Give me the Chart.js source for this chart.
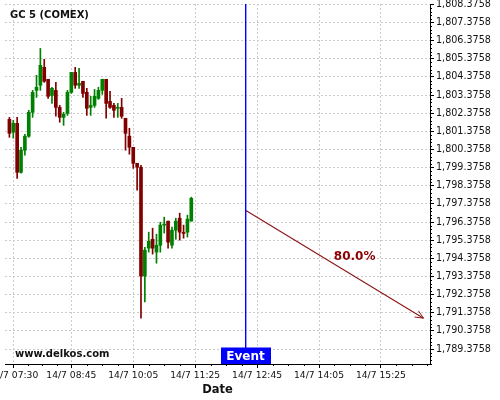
<!DOCTYPE html>
<html>
<head>
<meta charset="utf-8">
<script src="https://cdn.jsdelivr.net/npm/chart.js@4.4.1/dist/chart.umd.min.js"></script>
<style>
html,body{margin:0;padding:0;background:#fff;}
canvas{display:block;}
</style>
</head>
<body>
<canvas id="c" width="500" height="400"></canvas>
<script>
const FONT = 'DejaVu Sans';
const TITLE = 'GC 5 (COMEX)';
const WATERMARK = 'www.delkos.com';
const X_TITLE = 'Date';

// candle times, minutes since midnight (14/7)
const TIMES = [445,450,455,460,465,470,475,480,485,490,495,500,505,510,515,520,525,530,535,540,545,550,555,560,
               565,570,575,580,585,590,595,600,605,610,615,620,625,630,635,640,645,650,655,660,665,670,675,680];
const OPEN  = [1802.04,1801.33,1801.82,1799.12,1800.34,1801.11,1802.43,1803.64,1803.92,1804.91,1804.25,1803.36,
               1803.64,1802.70,1802.15,1802.37,1803.53,1804.63,1803.92,1804.14,1803.53,1802.70,1802.81,1803.20,
               1803.64,1804.25,1803.03,1802.81,1802.65,1802.70,1802.10,1801.11,1800.50,1799.62,1799.40,1793.40,
               1794.94,1795.43,1794.72,1795.10,1796.21,1796.43,1795.10,1795.93,1796.59,1795.80,1795.82,1796.43];
const HIGH  = [1802.15,1801.99,1802.15,1800.50,1801.22,1802.54,1803.64,1804.47,1805.95,1805.35,1804.25,1803.81,
               1804.08,1802.81,1802.43,1803.64,1804.63,1804.91,1804.85,1804.14,1803.75,1803.31,1803.69,1803.81,
               1804.25,1804.25,1803.58,1802.92,1802.92,1803.20,1802.10,1801.55,1800.50,1799.62,1799.51,1794.99,
               1795.82,1796.04,1795.71,1796.37,1796.65,1796.43,1796.10,1796.59,1796.87,1796.21,1796.76,1797.75];
const LOW   = [1801.05,1801.00,1798.79,1799.07,1800.06,1801.05,1802.15,1803.25,1803.64,1804.08,1803.20,1802.92,
               1802.21,1801.88,1801.71,1802.26,1803.47,1803.75,1803.75,1803.25,1802.26,1802.26,1802.70,1803.14,
               1803.42,1802.10,1802.65,1802.15,1802.15,1802.10,1800.34,1800.12,1799.34,1798.13,1791.08,1791.97,
               1794.72,1794.61,1794.11,1794.72,1795.77,1794.94,1794.94,1795.43,1795.38,1795.49,1795.55,1796.43];
const CLOSE = [1801.27,1801.82,1799.12,1800.34,1801.11,1802.43,1803.53,1803.81,1805.02,1804.14,1803.31,1803.75,
               1802.70,1802.15,1802.32,1803.53,1804.63,1803.92,1804.03,1803.47,1802.65,1802.81,1803.31,1803.64,
               1804.25,1802.92,1802.70,1802.54,1802.70,1802.21,1801.27,1800.50,1799.62,1799.40,1793.40,1794.83,
               1795.32,1794.94,1795.10,1796.21,1796.26,1795.27,1795.93,1796.43,1795.82,1795.75,1796.54,1797.69];

const X_TICKS = [450, 525, 605, 685, 765, 845, 925];
const X_TICK_LABELS = ['14/7 07:30','14/7 08:45','14/7 10:05','14/7 11:25','14/7 12:45','14/7 14:05','14/7 15:25'];
const Y_TICKS = [1789.3758,1790.3758,1791.3758,1792.3758,1793.3758,1794.3758,1795.3758,1796.3758,1797.3758,1798.3758,
                 1799.3758,1800.3758,1801.3758,1802.3758,1803.3758,1804.3758,1805.3758,1806.3758,1807.3758,1808.3758];
const X_MIN = 439.3, X_MAX = 988.4;
const Y_MIN = 1788.553, Y_MAX = 1808.40;

const EVENT_TIME = 750;
const EVENT_LABEL = 'Event';
const ARROW_START = {x: 750, y: 1797.03};
const ARROW_END = {x: 980, y: 1791.08};
const ARROW_LABEL = '80.0%';
const ARROW_LABEL_POS = {x: 891, y: 1794.45};

const UP = '#008000', DOWN = '#800000';
const ARROW_COLOR = '#8b1515';
const EVENT_COLOR = '#0000ff';
const colors = TIMES.map((t, i) => CLOSE[i] >= OPEN[i] ? UP : DOWN);
const bodies = TIMES.map((t, i) => ({x: t, y: [OPEN[i], CLOSE[i]]}));
const wicks = TIMES.map((t, i) => ({x: t, y: [LOW[i], HIGH[i]]}));

const overlay = {
  id: 'overlay',
  afterDatasetsDraw(chart) {
    const {ctx, chartArea: a, scales: {x}} = chart;
    // event marker line
    const px = Math.round(x.getPixelForValue(EVENT_TIME));
    ctx.save();
    ctx.fillStyle = EVENT_COLOR;
    ctx.fillRect(px, a.top, 1.4, a.bottom - a.top);
    ctx.restore();
  },
  afterDraw(chart) {
    const {ctx, chartArea: a, scales: {x, y}} = chart;
    ctx.save();
    // minor ticks on y axis
    ctx.strokeStyle = '#000';
    ctx.lineWidth = 1;
    ctx.beginPath();
    for (let i = 0; i < Y_TICKS.length; i++) {
      for (let k = -4; k <= 4; k++) {
        if (k === 0) continue;
        const v = Y_TICKS[i] + k * 0.2;
        if (k < 0 && i > 0) continue;
        if (v < y.min || v > y.max) continue;
        const py = Math.round(y.getPixelForValue(v)) + 0.5;
        ctx.moveTo(a.right, py); ctx.lineTo(a.right + 2, py);
      }
    }
    // minor ticks on x axis
    for (let i = 0; i < X_TICKS.length; i++) {
      const step = i + 1 < X_TICKS.length ? (X_TICKS[i + 1] - X_TICKS[i]) / 4 : 20;
      for (let k = 1; k < 4; k++) {
        const v = X_TICKS[i] + k * step;
        if (v > x.max) continue;
        const px = Math.round(x.getPixelForValue(v)) + 0.5;
        ctx.moveTo(px, a.bottom); ctx.lineTo(px, a.bottom + 2);
      }
      if (i === 0) {
        for (let k = 1; k < 4; k++) {
          const v = X_TICKS[0] - k * 20;
          if (v < x.min) continue;
          const px = Math.round(x.getPixelForValue(v)) + 0.5;
          ctx.moveTo(px, a.bottom); ctx.lineTo(px, a.bottom + 2);
        }
      }
    }
    ctx.stroke();

    // arrow head
    const sx = x.getPixelForValue(ARROW_START.x), sy = y.getPixelForValue(ARROW_START.y);
    const ex = x.getPixelForValue(ARROW_END.x), ey = y.getPixelForValue(ARROW_END.y);
    const ang = Math.atan2(ey - sy, ex - sx);
    ctx.strokeStyle = ARROW_COLOR;
    ctx.beginPath();
    ctx.moveTo(ex - 9 * Math.cos(ang - 0.42), ey - 9 * Math.sin(ang - 0.42));
    ctx.lineTo(ex, ey);
    ctx.lineTo(ex - 9 * Math.cos(ang + 0.42), ey - 9 * Math.sin(ang + 0.42));
    ctx.stroke();

    // arrow label
    ctx.fillStyle = '#8b0000';
    ctx.font = 'bold 12px "' + FONT + '"';
    ctx.textAlign = 'center';
    ctx.textBaseline = 'middle';
    ctx.fillText(ARROW_LABEL, x.getPixelForValue(ARROW_LABEL_POS.x), y.getPixelForValue(ARROW_LABEL_POS.y));

    // event label box
    const evx = Math.round(x.getPixelForValue(EVENT_TIME)) + 0.5;
    ctx.fillStyle = EVENT_COLOR;
    ctx.fillRect(Math.round(evx - 25), a.bottom - 16.5, 50, 16.5);
    ctx.fillStyle = '#ffffff';
    ctx.font = 'bold 12px "' + FONT + '"';
    ctx.fillText(EVENT_LABEL, evx, a.bottom - 7.5);

    // title and watermark
    ctx.fillStyle = '#111';
    ctx.textAlign = 'left';
    ctx.font = 'bold 10px "' + FONT + '"';
    ctx.fillText(TITLE, 10, 15);
    ctx.fillText(WATERMARK, 15, 354);
    ctx.restore();
  }
};

new Chart(document.getElementById('c'), {
  type: 'bar',
  data: {
    datasets: [
      {label: 'wick', data: wicks, backgroundColor: colors, barThickness: 1, grouped: false, order: 3},
      {label: 'body', data: bodies, backgroundColor: colors, barThickness: 3, grouped: false, minBarLength: 1, order: 2},
      {type: 'line', label: 'arrow', data: [ARROW_START, ARROW_END],
       borderColor: ARROW_COLOR, borderWidth: 1.1, pointRadius: 0, order: 0}
    ]
  },
  options: {
    responsive: false,
    animation: false,
    events: [],
    layout: {padding: {left: 5, top: 4, right: 0, bottom: 0}},
    plugins: {legend: {display: false}, tooltip: {enabled: false}},
    scales: {
      x: {
        type: 'linear', min: X_MIN, max: X_MAX, offset: false,
        grid: {offset: false, color: '#cccccc', tickColor: '#000', tickLength: 4, tickBorderDash: []},
        border: {display: true, color: '#000', width: 1, dash: [2, 2]},
        ticks: {autoSkip: false, maxRotation: 0, minRotation: 0, padding: 2, color: '#111',
                font: {family: FONT, size: 9.2},
                callback: (v) => { const i = X_TICKS.indexOf(v); return i >= 0 ? X_TICK_LABELS[i] : ''; }},
        title: {display: true, text: X_TITLE, color: '#111', font: {family: FONT, size: 11.5, weight: 'bold'},
                padding: {top: 0, bottom: 3}},
        afterBuildTicks: (s) => { s.ticks = X_TICKS.map(v => ({value: v})); },
        afterFit: (s) => { s.height = 36; s.paddingLeft = 0; s.paddingRight = 0; }
      },
      y: {
        type: 'linear', position: 'right', min: Y_MIN, max: Y_MAX,
        grid: {color: '#cccccc', tickColor: '#000', tickLength: 4, tickBorderDash: []},
        border: {display: true, color: '#000', width: 1, dash: [2, 2]},
        ticks: {autoSkip: false, padding: 2, color: '#111', font: {family: FONT, size: 9.6},
                callback: (v) => Number(v).toLocaleString('en-US', {minimumFractionDigits: 4, maximumFractionDigits: 4})},
        afterBuildTicks: (s) => { s.ticks = Y_TICKS.map(v => ({value: v})); },
        afterFit: (s) => { s.width = 70; s.paddingTop = 0; s.paddingBottom = 0; }
      }
    }
  },
  plugins: [overlay]
});
</script>
</body>
</html>
